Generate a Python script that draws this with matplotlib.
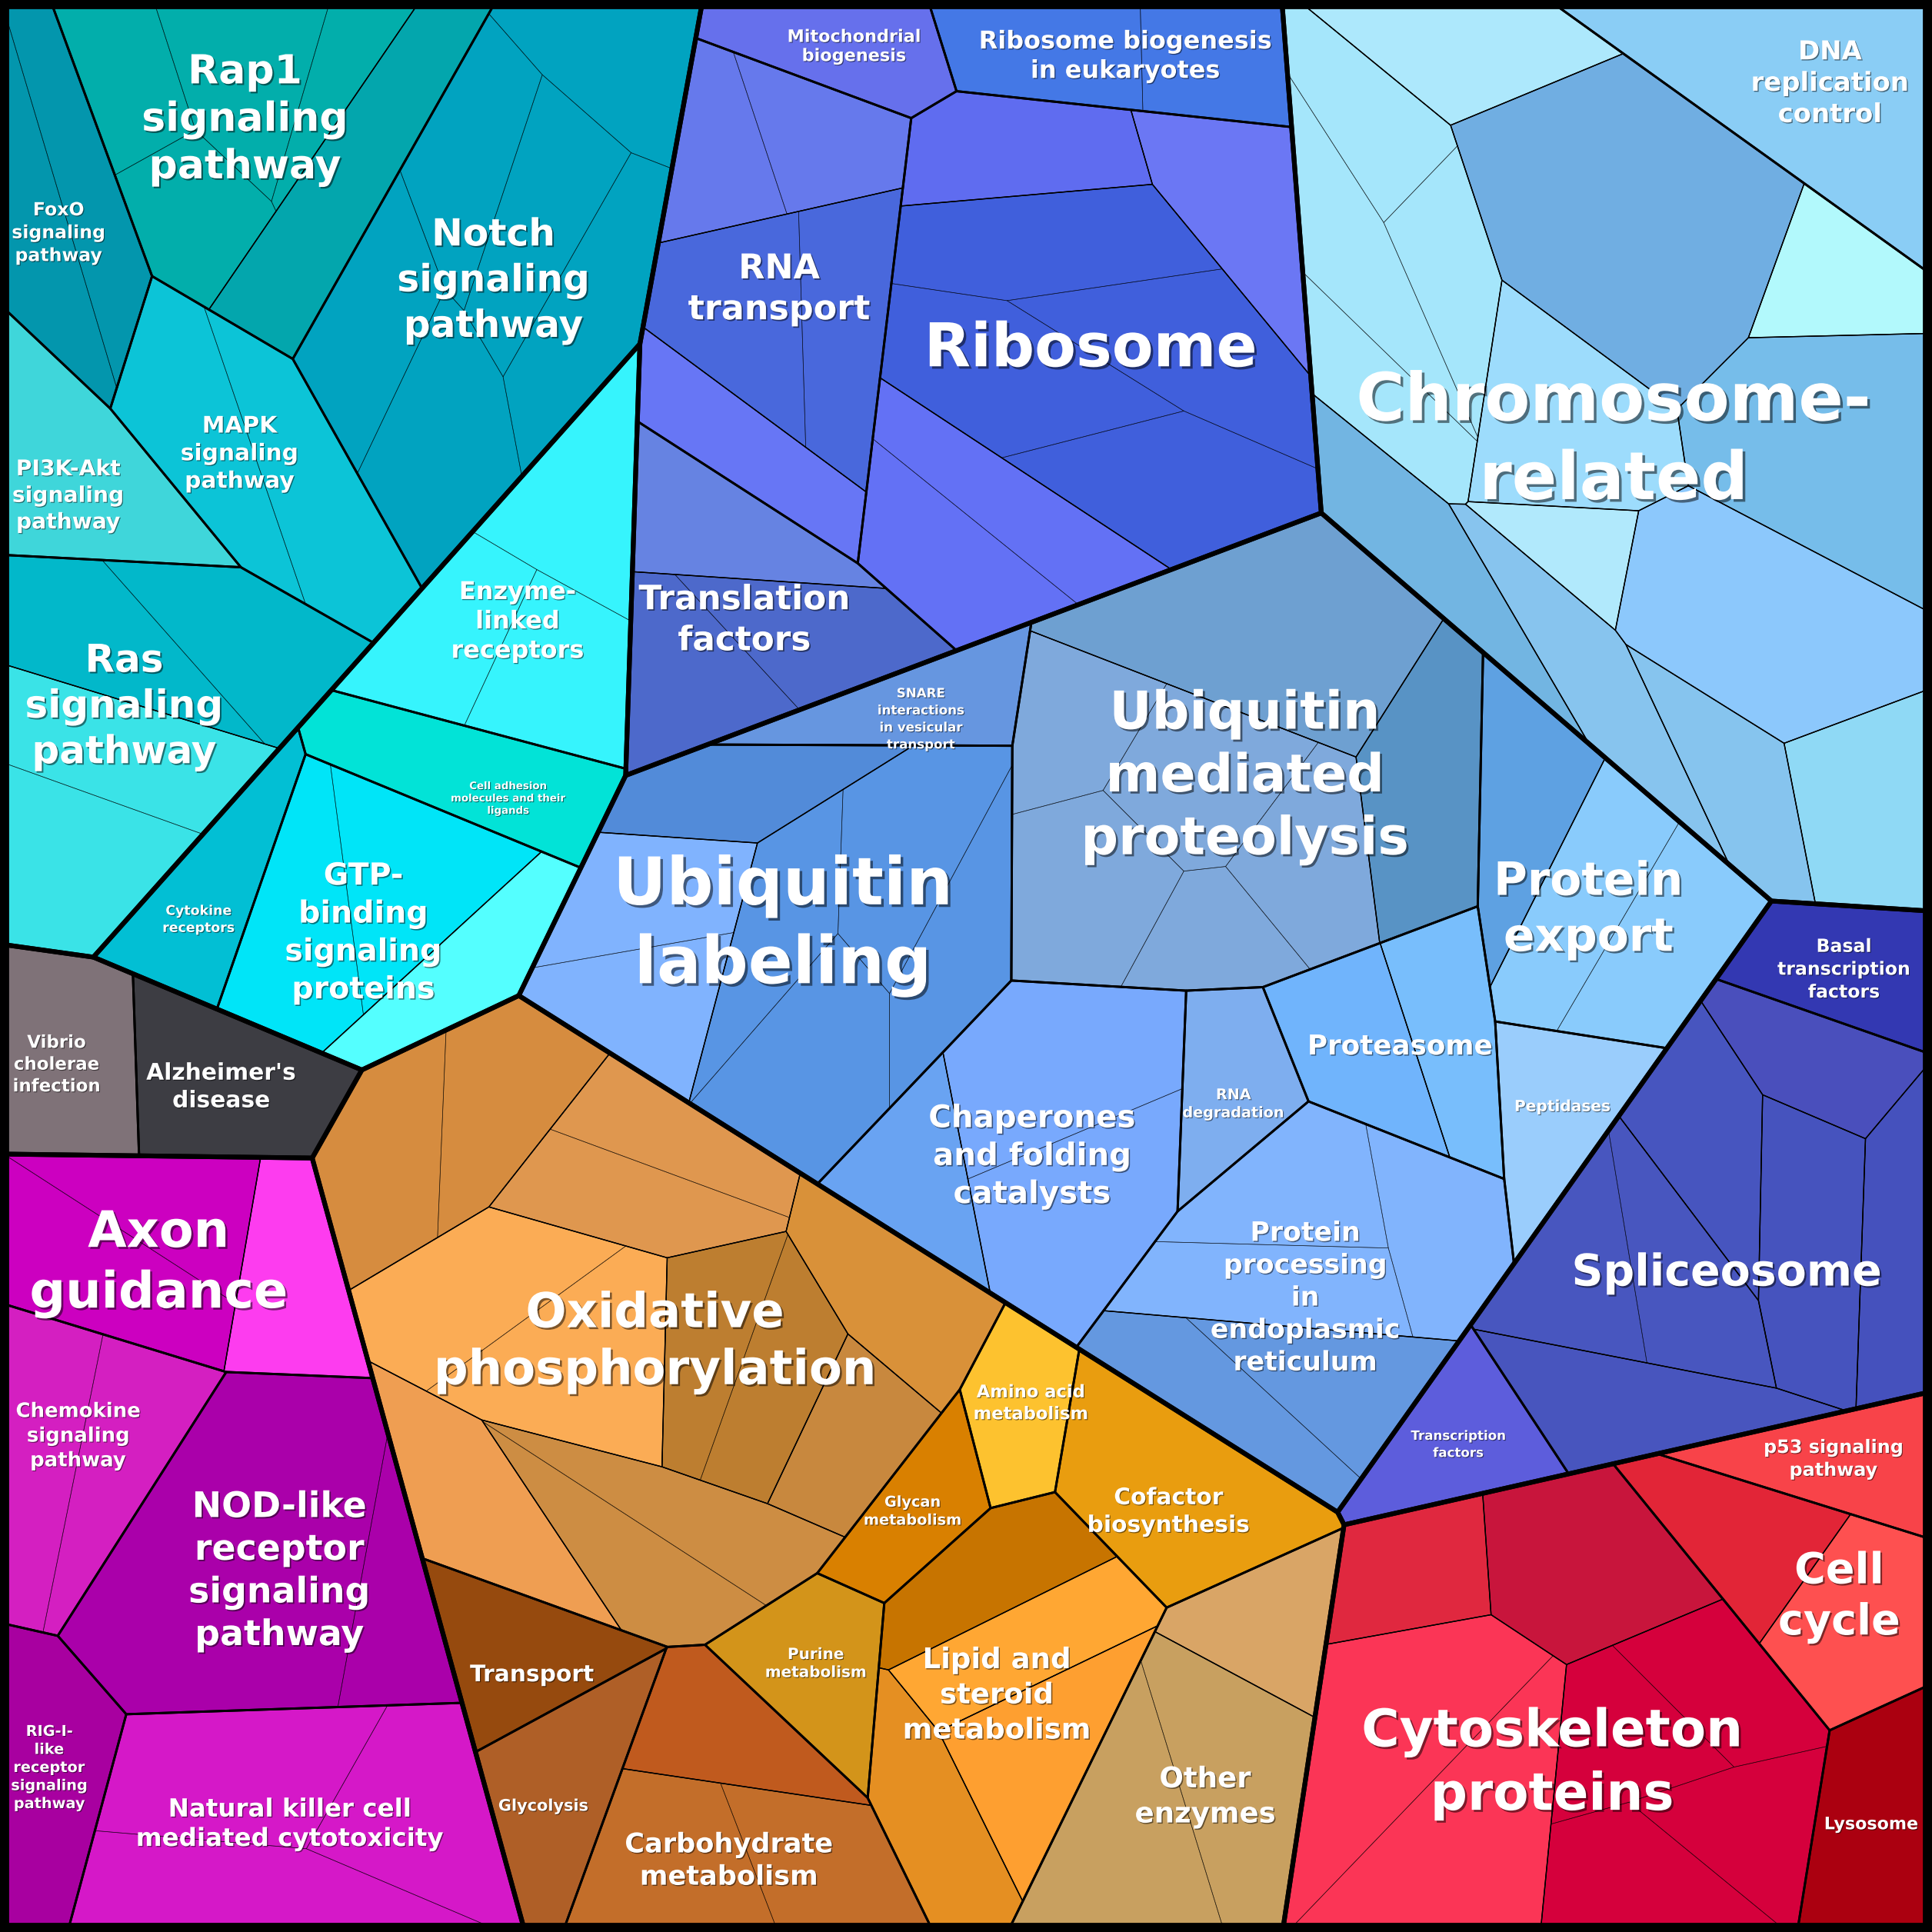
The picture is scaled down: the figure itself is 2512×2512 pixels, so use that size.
import math
import numpy as np
import matplotlib
matplotlib.use("Agg")
import matplotlib.pyplot as plt
from matplotlib.patches import Polygon
import matplotlib.patheffects as pe

# ------------------------------------------------------------------ data
group_keys = ["sig", "mol", "inf", "imm", "met", "tra", "chr", "fold", "trn", "cel"]

cat_keys = ["rap1", "notch", "foxo", "mapk", "pi3k", "ras",
            "enzyme", "celladh", "gtp", "cytokine",
            "vibrio", "alz",
            "axon", "chemokine", "nod", "rig", "nk",
            "oxphos", "transport", "glycolysis", "carb", "purine", "glycan", "amino", "cofactor", "lipid", "other",
            "mito", "ribobio", "rnatr", "ribosome", "transl",
            "dna", "chromo",
            "snare", "ublab", "ubmed", "pexport", "proteasome", "rnadeg", "peptidases", "chaperones", "er",
            "basal", "tf", "splice",
            "cyto", "p53", "cellcycle", "lyso"]
cat_group = (["sig"] * 6 + ["mol"] * 4 + ["inf"] * 2 + ["imm"] * 5 + ["met"] * 10 +
             ["tra"] * 5 + ["chr"] * 2 + ["fold"] * 9 + ["trn"] * 3 + ["cel"] * 4)
cat_labels = ["Rap1\nsignaling\npathway", "Notch\nsignaling\npathway", "FoxO\nsignaling\npathway",
              "MAPK\nsignaling\npathway", "PI3K-Akt\nsignaling\npathway", "Ras\nsignaling\npathway",
              "Enzyme-\nlinked\nreceptors", "Cell adhesion\nmolecules and their\nligands",
              "GTP-\nbinding\nsignaling\nproteins", "Cytokine\nreceptors",
              "Vibrio\ncholerae\ninfection", "Alzheimer's\ndisease",
              "Axon\nguidance", "Chemokine\nsignaling\npathway", "NOD-like\nreceptor\nsignaling\npathway",
              "RIG-I-\nlike\nreceptor\nsignaling\npathway", "Natural killer cell\nmediated cytotoxicity",
              "Oxidative\nphosphorylation", "Transport", "Glycolysis", "Carbohydrate\nmetabolism",
              "Purine\nmetabolism", "Glycan\nmetabolism", "Amino acid\nmetabolism", "Cofactor\nbiosynthesis",
              "Lipid and\nsteroid\nmetabolism", "Other\nenzymes",
              "Mitochondrial\nbiogenesis", "Ribosome biogenesis\nin eukaryotes", "RNA\ntransport",
              "Ribosome", "Translation\nfactors",
              "DNA\nreplication\ncontrol", "Chromosome-\nrelated",
              "SNARE\ninteractions\nin vesicular\ntransport", "Ubiquitin\nlabeling",
              "Ubiquitin\nmediated\nproteolysis", "Protein\nexport", "Proteasome", "RNA\ndegradation",
              "Peptidases", "Chaperones\nand folding\ncatalysts",
              "Protein\nprocessing\nin\nendoplasmic\nreticulum",
              "Basal\ntranscription\nfactors", "Transcription\nfactors", "Spliceosome",
              "Cytoskeleton\nproteins", "p53 signaling\npathway", "Cell\ncycle", "Lysosome"]

sub_keys = ["rap1_a", "rap1_b", "notch_a", "foxo_a", "mapk_a", "pi3k_a", "ras_a", "ras_b",
            "enz_a", "adh_a", "gtp_a", "gtp_b", "cytok_a",
            "vib_a", "alz_a",
            "axon_a", "axon_b", "chem_a", "nod_a", "rig_a", "nk_a",
            "ox_a", "ox_c", "ox_d", "ox_e", "ox_f", "ox_g", "ox_h", "ox_i", "tr_a", "gly_a",
            "carb_a", "carb_b", "pur_a", "gcan_a", "amino_a", "cof_a",
            "lip_a", "lip_b", "lip_c", "lip_d", "oth_a", "oth_b",
            "mito_a", "rbb_a", "rna_a", "rna_b", "rna_c", "rib_a", "rib_b", "rib_c", "rib_d", "trf_a", "trf_b",
            "dna_a", "chr_t", "chr_l", "chr_d", "chr_cy", "chr_r", "chr_ce", "chr_b1", "chr_bl",
            "chr_bot1", "chr_bot2", "chr_bot3", "chr_bot4",
            "snare_a", "ubl_a", "ubl_b", "ubl_c", "ubm_a", "ubm_b", "ubm_c", "pe_a", "pe_b",
            "prs_a", "prs_b", "rnd_a", "pep_a", "chp_a", "chp_b", "er_a", "er_b",
            "bas_a", "tf_a", "spl_a", "spl_b", "spl_c", "spl_d", "spl_e", "spl_f",
            "cyt_k1", "cyt_k2", "cyt_k3", "cyt_k4", "p53_a", "cc_a", "cc_b", "lys_a"]
sub_category = (["rap1", "rap1", "notch", "foxo", "mapk", "pi3k", "ras", "ras",
                 "enzyme", "celladh", "gtp", "gtp", "cytokine",
                 "vibrio", "alz",
                 "axon", "axon", "chemokine", "nod", "rig", "nk"] +
                ["oxphos"] * 8 + ["transport", "glycolysis", "carb", "carb", "purine", "glycan", "amino",
                                  "cofactor"] + ["lipid"] * 4 + ["other", "other"] +
                ["mito", "ribobio"] + ["rnatr"] * 3 + ["ribosome"] * 4 + ["transl"] * 2 +
                ["dna"] + ["chromo"] * 12 +
                ["snare"] + ["ublab"] * 3 + ["ubmed"] * 3 + ["pexport"] * 2 + ["proteasome"] * 2 +
                ["rnadeg", "peptidases"] + ["chaperones"] * 2 + ["er"] * 2 +
                ["basal", "tf"] + ["splice"] * 6 +
                ["cyto"] * 4 + ["p53"] + ["cellcycle"] * 2 + ["lyso"])

# values of the leaf cells of every sub-group (same order as sub_keys)
leaf_value = [
    [118.4, 118.5, 107.7, 129.7], [128.8], [133.0, 136.7, 140.9, 141.3, 156.5, 176.9], [114.0, 126.9],
    [168.5, 179.3], [197.4], [149.1, 156.9], [161.4, 156.2],
    [143.6, 134.0, 135.0], [160.0], [159.5, 162.3], [144.8], [128.8],
    [166.4], [182.7],
    [120.6, 151.9], [139.3], [129.7, 134.2], [546.8, 118.1], [179.4], [199.3, 183.9, 167.9],
    [148.8, 148.5], [112.1, 129.9], [145.8], [154.8, 181.4], [116.5, 118.6], [115.8], [180.3], [127.6, 131.1],
    [135.7], [157.3], [126.4], [143.7, 121.1], [150.3], [122.5], [132.4], [237.6],
    [121.2], [138.5], [147.0], [134.1], [136.4], [179.6, 167.8],
    [117.1], [122.4, 110.9], [107.0, 114.8], [141.9, 131.0], [133.8], [138.1], [164.6],
    [179.2, 183.9, 187.8, 183.2], [136.1, 140.4], [125.8], [144.5, 145.9],
    [315.4], [133.1], [117.1, 113.2, 114.1, 113.7], [490.5], [118.1], [336.5], [205.1], [73.2], [153.6],
    [147.7], [315.3], [155.5], [125.4],
    [122.8], [132.7], [128.1, 126.2], [138.6, 153.3, 144.3, 173.2], [326.6], [188.8],
    [135.0, 147.1, 129.3, 122.9, 129.3], [134.1], [151.8, 155.3],
    [133.7], [126.8], [124.9], [145.8], [128.3], [215.4, 215.4], [137.7, 139.4, 140.8], [124.9, 121.1],
    [151.9], [144.0], [117.8], [138.5], [129.3, 137.7], [159.7], [182.2], [116.8],
    [117.9], [202.1], [246.9, 229.3], [118.9, 119.0, 118.2, 125.4], [132.1], [127.4], [150.9], [153.5]]

# ------------------------------------------------------------------ layout (seed positions of the cells)
leaf_x = [
    [116, 219, 305, 168], [262], [500, 383, 438, 302, 478, 359], [35, 72],
    [160, 259], [70], [80, 205], [103, 63],
    [478, 370, 440], [380], [240, 322], [385], [170],
    [56], [185],
    [135, 80], [240], [40, 105], [193, 318], [45], [183, 335, 185],
    [320, 420], [553, 514], [721], [385, 476], [572, 630], [687], [386], [505, 569],
    [426], [465], [591], [544, 664], [663], [738], [812], [946],
    [800], [835], [840], [757], [1035], [995, 902],
    [690], [830, 1012], [586, 684], [607, 700], [607], [827], [1012],
    [849, 970, 816, 956], [822, 767], [580], [546, 669],
    [1461], [1193], [1115, 1097, 1181, 1117], [1323], [1489], [1478], [1270], [1273], [1145],
    [1285], [1427], [1508], [1403],
    [748], [601], [528, 523], [628, 744, 792, 660], [1028], [1158],
    [861, 975, 899, 989, 1062], [1249], [1284, 1359],
    [1096], [1179], [998], [1266], [745], [866, 885], [1039, 1171, 1020], [1087, 985],
    [1488], [1180], [1470], [1382], [1272, 1374], [1324], [1468], [1534],
    [1147], [1284], [1135, 1193], [1311, 1394, 1324, 1414], [1487], [1404], [1508], [1514]]
leaf_y = [
    [66, 60, 72, 170], [176], [52, 125, 178, 262, 252, 359], [202, 145],
    [350, 396], [385], [525, 515], [609, 704],
    [385, 515, 540], [636], [745, 704], [800], [729],
    [856], [878],
    [970, 1040], [1040], [1185, 1190], [1260, 1308], [1430], [1436, 1470, 1527],
    [940, 890], [916, 972], [1046], [1050, 1108], [1085, 1120], [1164], [1222], [1278, 1224],
    [1364], [1450], [1404], [1510, 1512], [1345], [1227], [1152], [1223],
    [1275], [1335], [1417], [1470], [1310], [1453, 1503],
    [45], [45, 45], [134, 117], [246, 255], [370], [118], [161],
    [195, 285, 302, 393], [405, 455], [440], [556, 504],
    [79], [47], [99, 220, 224, 330], [184], [238], [360], [345], [445], [445],
    [546], [501], [647], [630],
    [578], [631], [717, 815], [747, 680, 772, 863], [519], [640],
    [567, 635, 711, 760, 700], [653], [725, 765],
    [850], [837], [880], [898], [956], [860, 990], [970, 1001, 1045], [1108, 1130],
    [774], [1160], [862], [921], [1032, 1034], [1141], [1017], [1016],
    [1278], [1272], [1405, 1483], [1409, 1367, 1520, 1484], [1181], [1244], [1322], [1476]]

# label nudges relative to the cell centroid (layout)
label_dx = [-13, -8, -6, -16, -15, -13,
            -12, 32, -19, -9,
            -11, -5,
            -22, -4, 8, -3, -6,
            25, 8, -15, -5, 0, -2, 9, -5, -2, 3,
            9, 0, 3, 5, 1,
            22, -11,
            3, -6, 2, -3, -3, 2, 4, -4, -5,
            3, 2, -2,
            3, -2, 30, 0]
label_dy = [-15, 13, 16, -7, 17, -15,
            17, 21, 10, 23,
            7, 3,
            4, -14, 5, -5, 2,
            10, 18, 14, 33, -3, 0, -3, 17, -5, 28,
            -2, -1, 1, -7, 6,
            -9, 15,
            12, -4, 5, 20, 6, 17, -4, 7, 2,
            3, 2, 24,
            29, -2, 12, 2]

# ------------------------------------------------------------------ style
sub_color = ["#02aeab", "#03a6ad", "#01a3c0", "#0396ad", "#0cc4d7", "#3fd6da", "#02b8ca", "#3ae3e7",
             "#36f4fd", "#02e3d7", "#00e5f8", "#54ffff", "#02bfd4",
             "#7f7278", "#3d3d43",
             "#cc00c0", "#fd3cef", "#d41fc1", "#aa00aa", "#a800a0", "#d518c8",
             "#d68c3f", "#df974f", "#d99139", "#fbac55", "#bd7e30", "#c8883e", "#ef9e52", "#cd8d43",
             "#964a0e", "#af5f27", "#c05a1e", "#c36e2a", "#d3941a", "#d98000", "#fdc22f", "#e99d0f",
             "#c77400", "#ffa733", "#fe9f30", "#e58f22", "#d9a566", "#c8a060",
             "#6670ec", "#4478e6", "#6679ec", "#4968dc", "#6776f5", "#5f6cf0", "#6b77f4", "#405fdc",
             "#6371f5", "#6683e2", "#4d69cb",
             "#8acdf5", "#ade8fc", "#a5e6fb", "#70aee2", "#b2f9fc", "#76bdea", "#9ddcfc", "#b1e9fc",
             "#72b5e2", "#87c4ee", "#8cc8fc", "#8fd9f5", "#86c4ee",
             "#6696e0", "#528bd9", "#80b3fe", "#5895e4", "#6ea0d1", "#5893c5", "#7fa9dc", "#5ea1e2",
             "#89cbfc", "#70b4fc", "#78befc", "#7eaeef", "#9acdfc", "#69a3f2", "#78a9fd", "#81b4fd",
             "#6498e0",
             "#3338b2", "#5d5ddc", "#4a4fbc", "#4755bf", "#4856bf", "#4855be", "#4653be", "#4551bd",
             "#e0283f", "#c8153c", "#fb3556", "#d5003c", "#f84349", "#e22537", "#fe5050", "#ab0010"]
cat_fontsize = [37.5, 35, 17, 21.4, 20.3, 36,
                23, 9.6, 28.5, 12.5,
                16.5, 21.4,
                47, 18.7, 33, 13.9, 23.4,
                45, 21.4, 15, 25.3, 14.4, 13.9, 16.3, 21.4, 26.7, 26.7,
                16.1, 23, 32, 56.5, 31.5,
                24.4, 62,
                12, 61.5, 49, 43, 25.7, 13.8, 14.5, 29, 25,
                17, 12, 41,
                48.5, 17.2, 40, 16]

assert len(cat_keys) == len(cat_group) == len(cat_labels) == len(cat_fontsize) == len(label_dx) == len(label_dy)
assert len(sub_keys) == len(sub_category) == len(leaf_value) == len(leaf_x) == len(leaf_y) == len(sub_color)

LO, HI = 7.5, 1560.5          # treemap area
VIEW_LO, VIEW_HI = 2.0, 1566.0  # visible window (leaves a thin black frame)


# ------------------------------------------------------------------ power-diagram Voronoi treemap
def area_centroid(poly):
    n = len(poly)
    if n < 3:
        return 0.0, None
    a = cx = cy = 0.0
    for k in range(n):
        x0, y0 = poly[k]
        x1, y1 = poly[(k + 1) % n]
        cr = x0 * y1 - x1 * y0
        a += cr
        cx += (x0 + x1) * cr
        cy += (y0 + y1) * cr
    if abs(a) < 1e-9:
        return 0.0, None
    return abs(a) / 2.0, (cx / (3.0 * a), cy / (3.0 * a))


def clip(poly, tags, a, b, c, tag):
    out, ot = [], []
    n = len(poly)
    for k in range(n):
        px, py = poly[k]
        qx, qy = poly[(k + 1) % n]
        t = tags[k]
        fp = a * px + b * py - c
        fq = a * qx + b * qy - c
        if fp <= 0:
            out.append((px, py))
            ot.append(t)
            if fq > 0:
                s = fp / (fp - fq)
                out.append((px + s * (qx - px), py + s * (qy - py)))
                ot.append(tag)
        elif fq <= 0:
            s = fp / (fp - fq)
            out.append((px + s * (qx - px), py + s * (qy - py)))
            ot.append(t)
    return out, ot


def power_cells(S, Wt, parent):
    n = len(S)
    cells = []
    for i in range(n):
        poly = list(parent)
        tags = [-1] * len(poly)
        xi, yi = S[i]
        for j in range(n):
            if j == i:
                continue
            xj, yj = S[j]
            a = 2.0 * (xj - xi)
            b = 2.0 * (yj - yi)
            c = xj * xj + yj * yj - xi * xi - yi * yi - Wt[j] + Wt[i]
            poly, tags = clip(poly, tags, a, b, c, j)
            if len(poly) < 3:
                poly, tags = [], []
                break
        cells.append((poly, tags))
    return cells


def fit(parent, vals, cents, iters=600):
    n = len(vals)
    if n == 1:
        return [parent]
    PA, PC = area_centroid(parent)
    vals = np.asarray(vals, float)
    T = PA * vals / vals.sum()
    C0 = np.asarray(cents, float).copy()
    C0 += np.array(PC) - (C0 * T[:, None]).sum(0) / T.sum()
    px = [p[0] for p in parent]
    py = [p[1] for p in parent]
    x0, x1, y0, y1 = min(px), max(px), min(py), max(py)
    padx, pady = (x1 - x0) * 0.6, (y1 - y0) * 0.6
    S = C0.copy()
    Wt = np.zeros(n)
    scale = math.sqrt(PA)
    best, best_err = None, float("inf")
    for it in range(iters):
        cells = power_cells([tuple(s) for s in S], Wt, parent)
        A = np.zeros(n)
        C = S.copy()
        D = np.zeros(n)
        for i, (poly, tags) in enumerate(cells):
            a, c = area_centroid(poly)
            if c is None:
                continue
            A[i] = a
            C[i] = c
            m = len(poly)
            d = 0.0
            for k in range(m):
                j = tags[k]
                if j >= 0:
                    xa, ya = poly[k]
                    xb, yb = poly[(k + 1) % m]
                    L = math.hypot(xb - xa, yb - ya)
                    dist = math.hypot(S[j, 0] - S[i, 0], S[j, 1] - S[i, 1])
                    d += L / (2.0 * dist + 1e-9)
            D[i] = d
        err = max(np.max(np.abs(A - T) / T), 5.0 * np.max(np.hypot(*(C - C0).T)) / scale)
        if err < best_err:
            best_err, best = err, [p for p, _ in cells]
        if err < 1.5e-3:
            break
        for i in range(n):
            if A[i] <= 0:
                Wt[i] = max(Wt[j] - float(((S[i] - S[j]) ** 2).sum()) for j in range(n) if j != i) + 1.0
            else:
                Wt[i] += 0.7 * (T[i] - A[i]) / max(D[i], 0.3)
        S += 0.6 * (C0 - C)
        S[:, 0] = np.clip(S[:, 0], x0 - padx, x1 + padx)
        S[:, 1] = np.clip(S[:, 1], y0 - pady, y1 + pady)
        Wt -= Wt.mean()
    return best


# aggregate values and target centres up the hierarchy
sub_val = [sum(v) for v in leaf_value]
sub_cen = []
for vs, xs, ys in zip(leaf_value, leaf_x, leaf_y):
    v = np.array(vs)
    sub_cen.append(((v * np.array(xs)).sum() / v.sum(), (v * np.array(ys)).sum() / v.sum()))

cat_val, cat_cen = [], []
for ck in cat_keys:
    idx = [i for i, s in enumerate(sub_category) if s == ck]
    v = np.array([sub_val[i] for i in idx])
    cx = np.array([sub_cen[i][0] for i in idx])
    cy = np.array([sub_cen[i][1] for i in idx])
    cat_val.append(v.sum())
    cat_cen.append(((v * cx).sum() / v.sum(), (v * cy).sum() / v.sum()))

grp_val, grp_cen = [], []
for gk in group_keys:
    idx = [i for i, g in enumerate(cat_group) if g == gk]
    v = np.array([cat_val[i] for i in idx])
    cx = np.array([cat_cen[i][0] for i in idx])
    cy = np.array([cat_cen[i][1] for i in idx])
    grp_val.append(v.sum())
    grp_cen.append(((v * cx).sum() / v.sum(), (v * cy).sum() / v.sum()))

domain = [(LO, LO), (HI, LO), (HI, HI), (LO, HI)]
grp_poly = fit(domain, grp_val, grp_cen, iters=900)

cat_poly = [None] * len(cat_keys)
for gi, gk in enumerate(group_keys):
    idx = [i for i, g in enumerate(cat_group) if g == gk]
    polys = fit(grp_poly[gi], [cat_val[i] for i in idx], [cat_cen[i] for i in idx])
    for i, p in zip(idx, polys):
        cat_poly[i] = p

sub_poly = [None] * len(sub_keys)
for ci, ck in enumerate(cat_keys):
    idx = [i for i, s in enumerate(sub_category) if s == ck]
    if not cat_poly[ci]:
        continue
    polys = fit(cat_poly[ci], [sub_val[i] for i in idx], [sub_cen[i] for i in idx])
    for i, p in zip(idx, polys):
        sub_poly[i] = p

leaf_poly = []
for si in range(len(sub_keys)):
    if not sub_poly[si]:
        leaf_poly.append([])
        continue
    cents = list(zip(leaf_x[si], leaf_y[si]))
    leaf_poly.append(fit(sub_poly[si], leaf_value[si], cents, iters=300))

# ------------------------------------------------------------------ drawing
fig = plt.figure(figsize=(25.12, 25.12), dpi=100, facecolor="black")
ax = fig.add_axes([0, 0, 1, 1])
ax.set_xlim(VIEW_LO, VIEW_HI)
ax.set_ylim(VIEW_HI, VIEW_LO)
ax.set_facecolor("black")
ax.axis("off")

for si, polys in enumerate(leaf_poly):
    for p in polys:
        if p and len(p) >= 3:
            ax.add_patch(Polygon(p, closed=True, facecolor=sub_color[si], edgecolor=sub_color[si],
                                 lw=0.4, zorder=1))
for polys in leaf_poly:
    for p in polys:
        if p and len(p) >= 3:
            ax.add_patch(Polygon(p, closed=True, fill=False, edgecolor=(0, 0, 0, 0.6), lw=0.5,
                                 joinstyle="round", zorder=2))
for p in sub_poly:
    if p and len(p) >= 3:
        ax.add_patch(Polygon(p, closed=True, fill=False, edgecolor="black", lw=1.0,
                             joinstyle="round", zorder=3))
for p in cat_poly:
    if p and len(p) >= 3:
        ax.add_patch(Polygon(p, closed=True, fill=False, edgecolor="black", lw=2.1,
                             joinstyle="round", zorder=4))
for p in grp_poly:
    if p and len(p) >= 3:
        ax.add_patch(Polygon(p, closed=True, fill=False, edgecolor="black", lw=4.4,
                             joinstyle="round", zorder=5))

for ci, p in enumerate(cat_poly):
    if not p:
        continue
    _, c = area_centroid(p)
    if c is None:
        continue
    fs = cat_fontsize[ci]
    off = max(0.8, fs * 0.04)
    ax.text(c[0] + label_dx[ci], c[1] + label_dy[ci], cat_labels[ci], ha="center", va="center",
            multialignment="center", fontsize=fs, fontweight="bold", family="DejaVu Sans",
            color="white", linespacing=1.3, zorder=10,
            path_effects=[pe.SimplePatchShadow(offset=(off, -off), shadow_rgbFace="black", alpha=0.5),
                          pe.Normal()])

fig.savefig("out.png", dpi=100, facecolor="black")
